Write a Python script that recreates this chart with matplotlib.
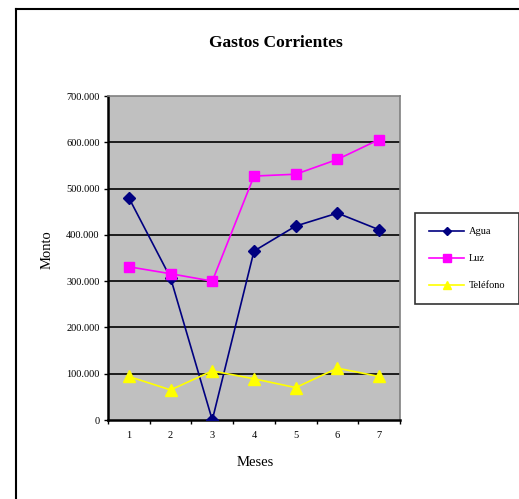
import matplotlib
matplotlib.use("Agg")
import matplotlib.pyplot as plt
from matplotlib.lines import Line2D

months = [1, 2, 3, 4, 5, 6, 7]
agua = [480000, 307000, 0, 365000, 419000, 447000, 411000]
luz = [331000, 316000, 300000, 527000, 531000, 563000, 606000]
telefono = [94000, 65000, 106000, 89000, 70000, 112000, 94000]
yticks = [0, 100000, 200000, 300000, 400000, 500000, 600000, 700000]
ytick_labels = ["0", "100.000", "200.000", "300.000", "400.000", "500.000", "600.000", "700.000"]

plt.rcParams['font.family'] = ['Liberation Serif', 'DejaVu Serif']

W, H = 519, 499
fig = plt.figure(figsize=(W / 100, H / 100), dpi=100)
fig.patch.set_facecolor('white')

ax = fig.add_axes([108 / W, 1 - 420 / H, 292 / W, 324 / H])
ax.set_facecolor('#C0C0C0')

ax.plot(months, agua, color='#000080', marker='D', markersize=6, lw=1.2, label='Agua', zorder=3)
ax.plot(months, luz, color='#FF00FF', marker='s', markersize=7.5, lw=1.2, label='Luz', zorder=3)
ax.plot(months, telefono, color='#FFFF00', marker='^', markersize=8, lw=1.2, label='Teléfono', zorder=3)

ax.set_xlim(0.5, 7.5)
ax.set_ylim(0, 700000)
ax.set_yticks(yticks)
ax.set_yticklabels(ytick_labels, fontsize=7.5)
for y in yticks[1:-1]:
    ax.axhline(y, color='black', lw=1.2, zorder=1)

ax.set_xticks(months)
ax.set_xticklabels([str(m) for m in months], fontsize=7.5)
ax.tick_params(axis='x', which='major', length=0, pad=8)
ax.set_xticks([0.5 + i for i in range(8)], minor=True)
ax.tick_params(axis='x', which='minor', length=3, width=1, direction='out')
ax.tick_params(axis='y', length=3, width=1, direction='out', pad=3)

for s in ['left', 'bottom']:
    ax.spines[s].set_linewidth(1.8)
    ax.spines[s].set_color('black')
for s in ['top', 'right']:
    ax.spines[s].set_linewidth(1.2)
    ax.spines[s].set_color('#808080')

fig.text(276 / W, 1 - 43 / H, 'Gastos Corrientes', ha='center', va='center',
         fontsize=12.5, fontweight='bold')
fig.text(47 / W, 1 - 250 / H, 'Monto', ha='center', va='center', rotation=90, fontsize=10.5)
fig.text(255 / W, 1 - 462 / H, 'Meses', ha='center', va='center', fontsize=10.5)

leg = ax.legend(loc='upper left', bbox_to_anchor=(415 / W, 1 - 213 / H),
                bbox_transform=fig.transFigure, fontsize=7.5, frameon=True,
                fancybox=False, edgecolor='black', handlelength=3.4,
                labelspacing=1.7, borderpad=1.35, handletextpad=0.4,
                borderaxespad=0, markerscale=0.7)
leg.get_frame().set_linewidth(1.2)
leg.get_frame().set_facecolor('white')

fig.add_artist(Line2D([16 / W, 16 / W], [1 - 9 / H, 0], transform=fig.transFigure,
                      color='black', lw=1.5))
fig.add_artist(Line2D([16 / W, 1], [1 - 9 / H, 1 - 9 / H], transform=fig.transFigure,
                      color='black', lw=1.5))

fig.savefig('out.png', dpi=100)
